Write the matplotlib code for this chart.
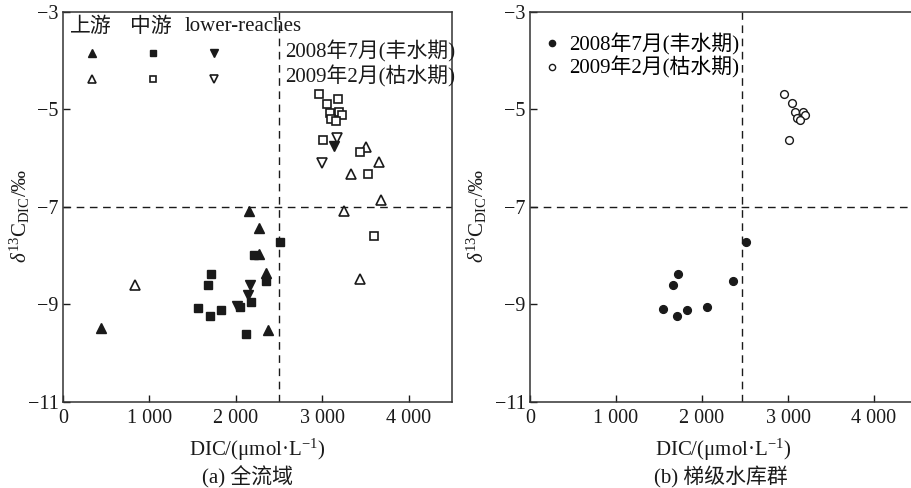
import matplotlib
matplotlib.use("Agg")
import matplotlib.pyplot as plt

plt.rcParams['font.family'] = ['Liberation Serif', 'Noto Sans CJK SC']
plt.rcParams['mathtext.fontset'] = 'custom'
plt.rcParams['mathtext.rm'] = 'Liberation Serif'
plt.rcParams['mathtext.it'] = 'Liberation Serif:italic'
plt.rcParams['axes.unicode_minus'] = True

# ---------------- data (a) 全流域 ----------------
up_wet_x = [2149, 2268, 2272, 2345, 2368, 440]
up_wet_y = [-7.09, -7.44, -7.96, -8.36, -9.52, -9.48]
mid_wet_x = [2505, 2215, 1715, 1676, 2349, 1561, 1703, 1822, 2049, 2180, 2118]
mid_wet_y = [-7.72, -7.98, -8.37, -8.59, -8.51, -9.08, -9.23, -9.11, -9.06, -8.95, -9.60]
low_wet_x = [2160, 2135, 2010, 3137]
low_wet_y = [-8.59, -8.81, -9.03, -5.75]

up_dry_x = [3503, 3656, 3329, 3683, 3256, 3437, 830]
up_dry_y = [-5.77, -6.07, -6.33, -6.85, -7.09, -8.47, -8.60]
mid_dry_x = [2964, 3176, 3049, 3087, 3195, 3222, 3099, 3157, 3010, 3433, 3529, 3602]
mid_dry_y = [-4.69, -4.78, -4.88, -5.07, -5.06, -5.12, -5.19, -5.24, -5.62, -5.88, -6.32, -7.59]
low_dry_x = [3168, 2991]
low_dry_y = [-5.58, -6.10]

# ---------------- data (b) 梯级水库群 ----------------
res_wet_x = [1547, 1667, 1717, 1713, 1829, 2058, 2357, 2512]
res_wet_y = [-9.09, -8.61, -8.37, -9.23, -9.12, -9.05, -8.52, -7.72]
res_dry_x = [2957, 3050, 3081, 3178, 3198, 3101, 3140, 3012]
res_dry_y = [-4.69, -4.87, -5.06, -5.06, -5.12, -5.17, -5.21, -5.62]

group_labels = ['上游', '中游', 'lower-reaches']
season_labels = ['2008年7月(丰水期)', '2009年2月(枯水期)']
x_ticks = [0, 1000, 2000, 3000, 4000]
x_ticklabels = ['0', '1 000', '2 000', '3 000', '4 000']
y_ticks = [-11, -9, -7, -5, -3]
y_ticklabels = ['\u221211', '\u22129', '\u22127', '\u22125', '\u22123']
div_x_a = 2500
div_x_b = 2460
div_y = -7
subtitles = ['(a) 全流域', '(b) 梯级水库群']

FS = 15
FS_TICK = 14.5
INK = '#1a1a1a'

fig = plt.figure(figsize=(9.11, 4.88), dpi=100)
ax1 = fig.add_axes([63/911, 1-402/488, 389/911, 390/488])
ax2 = fig.add_axes([530/911, 1-402/488, 387/911, 390/488])

def style(ax, div_x, ylab_x):
    ax.set_xlim(0, 4500)
    ax.set_ylim(-11, -3)
    ax.set_xticks(x_ticks)
    ax.set_xticklabels(x_ticklabels, fontsize=FS_TICK)
    ax.set_yticks(y_ticks)
    ax.set_yticklabels(y_ticklabels, fontsize=FS_TICK)
    ax.tick_params(direction='in', length=5, width=1, colors=INK, pad=3)
    ax.tick_params(axis='x', pad=5)
    for s in ax.spines.values():
        s.set_color('#333333')
        s.set_linewidth(1.1)
    ax.axvline(div_x, color=INK, lw=1.0, ls=(0, (5.5, 4)), zorder=1)
    ax.axhline(div_y, color=INK, lw=1.0, ls=(0, (5.5, 4)), zorder=1)
    ax.set_xlabel('DIC/(\u03bcmol\u00b7L$^{-1}$)', fontsize=FS, color=INK)
    ax.xaxis.set_label_coords(0.5, -0.09)
    ax.set_ylabel('$\\delta^{13}\\mathrm{C}_{\\mathrm{DIC}}$/\u2030', fontsize=FS, color=INK)
    ax.yaxis.set_label_coords(ylab_x, 0.477)

style(ax1, div_x_a, -0.08)
style(ax2, div_x_b, -0.106)

ms_tri = 7.0
ms_sq = 5.6
mk = dict(ls='none', zorder=3)
h_uw, = ax1.plot(up_wet_x, up_wet_y, marker='^', ms=ms_tri, mfc=INK, mec=INK, **mk)
h_ud, = ax1.plot(up_dry_x, up_dry_y, marker='^', ms=ms_tri, mfc='white', mec=INK, mew=1.2, **mk)
h_mw, = ax1.plot(mid_wet_x, mid_wet_y, marker='s', ms=ms_sq, mfc=INK, mec=INK, **mk)
h_md, = ax1.plot(mid_dry_x, mid_dry_y, marker='s', ms=ms_sq, mfc='white', mec=INK, mew=1.2, **mk)
h_lw, = ax1.plot(low_wet_x, low_wet_y, marker='v', ms=ms_tri, mfc=INK, mec=INK, **mk)
h_ld, = ax1.plot(low_dry_x, low_dry_y, marker='v', ms=ms_tri, mfc='white', mec=INK, mew=1.2, **mk)

ax1.legend([h_uw, h_ud, h_mw, h_md, h_lw, h_ld], [' '] * 6, ncol=3,
           loc='center', bbox_to_anchor=(0.238, 0.855), frameon=False,
           handlelength=1.0, handletextpad=0.0, columnspacing=1.68,
           labelspacing=0.30, borderpad=0, borderaxespad=0, fontsize=FS, markerscale=0.85)

for i, lab in enumerate(group_labels):
    ax1.text([0.018, 0.172, 0.313][i], 0.962, lab, transform=ax1.transAxes,
             fontsize=FS, ha='left', va='center', color=INK)
for i, lab in enumerate(season_labels):
    ax1.text(1.008, [0.898, 0.834][i], lab, transform=ax1.transAxes,
             fontsize=FS, ha='right', va='center', color=INK)

h_rw, = ax2.plot(res_wet_x, res_wet_y, marker='o', ms=ms_sq, mfc=INK, mec=INK, **mk)
h_rd, = ax2.plot(res_dry_x, res_dry_y, marker='o', ms=ms_sq, mfc='white', mec=INK, mew=1.0, **mk)
ax2.legend([h_rw, h_rd], season_labels, loc='upper left', bbox_to_anchor=(0.038, 0.946),
           frameon=False, handlelength=0.7, handletextpad=0.45, labelspacing=0.08,
           borderpad=0, borderaxespad=0, fontsize=FS, markerscale=0.8)

fig.text(247/911, 1-477/488, subtitles[0], fontsize=FS, ha='center', va='center', color=INK)
fig.text(721/911, 1-477/488, subtitles[1], fontsize=FS, ha='center', va='center', color=INK)

fig.savefig('out.png', dpi=100)
